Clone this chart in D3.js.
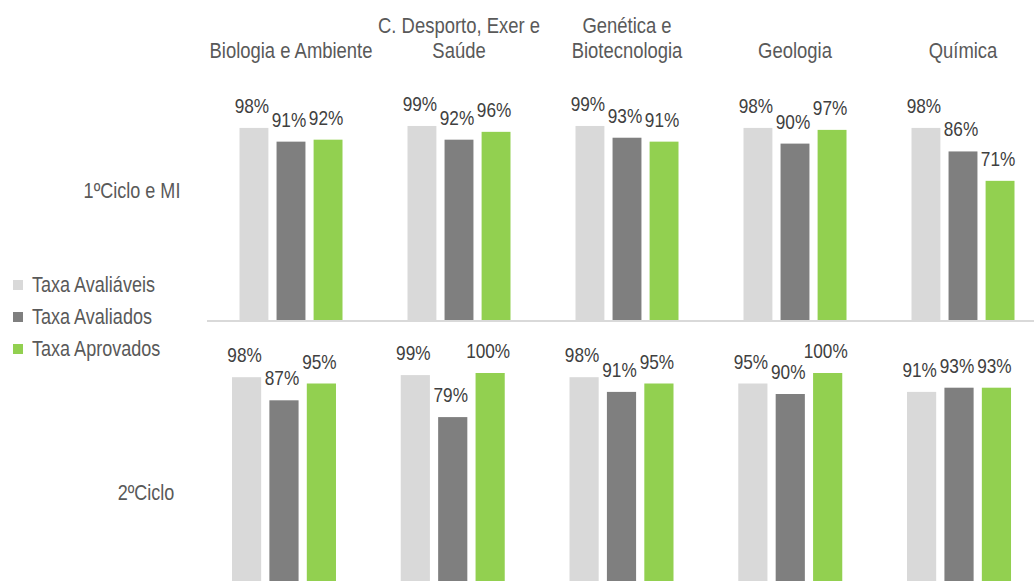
<!DOCTYPE html>
<html>
<head>
<meta charset="utf-8">
<script src="https://cdn.jsdelivr.net/npm/d3@7"></script>
<style>
  html, body { margin: 0; padding: 0; background: #fff; }
</style>
</head>
<body>
<div id="chart"></div>
<script>
// données du graphique
const categories = ["Biologia e Ambiente", "C. Desporto, Exer e Saúde", "Genética e Biotecnologia", "Geologia", "Química"];
const headerLines = [["Biologia e Ambiente"], ["C. Desporto, Exer e", "Saúde"], ["Genética e", "Biotecnologia"], ["Geologia"], ["Química"]];
const rowLabels = ["1ºCiclo e MI", "2ºCiclo"];
const seriesNames = ["Taxa Avaliáveis", "Taxa Avaliados", "Taxa Aprovados"];
const seriesColors = ["#d9d9d9", "#7f7f7f", "#92d050"];

const ciclo1Avaliaveis = [98, 99, 99, 98, 98];
const ciclo1Avaliados  = [91, 92, 93, 90, 86];
const ciclo1Aprovados  = [92, 96, 91, 97, 71];
const ciclo2Avaliaveis = [98, 99, 98, 95, 91];
const ciclo2Avaliados  = [87, 79, 91, 90, 93];
const ciclo2Aprovados  = [95, 100, 95, 100, 93];

const rowValues = [
    [ciclo1Avaliaveis, ciclo1Avaliados, ciclo1Aprovados],
    [ciclo2Avaliaveis, ciclo2Avaliados, ciclo2Aprovados]
];

const width = 1034, height = 581;

// la police étroite n'est pas toujours installée
function hasFont(name) {
    const ctx = document.createElement("canvas").getContext("2d");
    const s = "mmmmmmmmmmlli 98% Taxa";
    ctx.font = "40px monospace";
    const w0 = ctx.measureText(s).width;
    ctx.font = `40px "${name}", monospace`;
    return ctx.measureText(s).width !== w0;
}
const narrow = hasFont("Liberation Sans Narrow");
const fontFamily = narrow ? "'Liberation Sans Narrow', 'Liberation Sans', Arial, sans-serif" : "'Liberation Sans', Arial, sans-serif";
const sx = narrow ? 1 : 0.82;

const svg = d3.select("#chart").append("svg")
    .attr("width", width)
    .attr("height", height)
    .style("font-family", fontFamily);

function addText(parent, x, y, txt, size, color, anchor) {
    return parent.append("text")
        .attr("transform", `translate(${x},${y}) scale(${sx},1)`)
        .attr("text-anchor", anchor || "middle")
        .style("font-size", size + "px")
        .style("fill", color)
        .text(txt);
}

// chaque ligne du panneau a sa propre échelle (le panneau du bas est un peu plus grand)
const rows = [
    { x0: 207, x1: 1047, base: 320, top100: 124, barHalf: 51.5, labelX: 132, labelY: 198 },
    { x0: 199.6, x1: 1043.4, base: 583, top100: 373, barHalf: 52, labelX: 146, labelY: 500 }
];

rows.forEach((row, r) => {
    const xScale = d3.scaleBand()
        .domain(categories)
        .range([row.x0, row.x1]);

    const xInner = d3.scaleBand()
        .domain(seriesNames)
        .range([-row.barHalf, row.barHalf])
        .paddingInner(0.22);

    const yScale = d3.scaleLinear()
        .domain([0, 100])
        .range([row.base, row.top100]);

    const g = svg.append("g");

    categories.forEach((cat, i) => {
        const cx = xScale(cat) + xScale.bandwidth() / 2;
        seriesNames.forEach((s, k) => {
            const v = rowValues[r][k][i];
            g.append("rect")
                .attr("x", cx + xInner(s))
                .attr("y", yScale(v))
                .attr("width", xInner.bandwidth())
                .attr("height", yScale(0) - yScale(v))
                .attr("fill", seriesColors[k]);
        });
    });

    // étiquettes des valeurs
    categories.forEach((cat, i) => {
        const cx = xScale(cat) + xScale.bandwidth() / 2;
        seriesNames.forEach((s, k) => {
            const v = rowValues[r][k][i];
            addText(g, cx + xInner(s) + xInner.bandwidth() / 2 - 2, yScale(v) - 15, v + "%", 21, "#404040");
        });
    });

    // titres des colonnes au-dessus du premier panneau
    if (r === 0) {
        headerLines.forEach((lines, i) => {
            const cx = xScale(categories[i]) + xScale.bandwidth() / 2;
            lines.forEach((ln, j) => {
                const y = 58 - (lines.length - 1 - j) * 25;
                addText(svg, cx, y, ln, 22.5, "#595959");
            });
        });

        // ligne de base du premier panneau
        svg.append("line")
            .attr("x1", row.x0)
            .attr("x2", width)
            .attr("y1", yScale(0) + 1)
            .attr("y2", yScale(0) + 1)
            .style("stroke", "#d9d9d9")
            .style("stroke-width", 2);
    }

    addText(svg, row.labelX, row.labelY, rowLabels[r], 22, "#595959");
});

// légende
const legend = svg.append("g").attr("transform", "translate(13,285)");
seriesNames.forEach((s, k) => {
    legend.append("rect")
        .attr("x", 0)
        .attr("y", k * 32 - 5)
        .attr("width", 10)
        .attr("height", 10)
        .attr("fill", seriesColors[k]);
    addText(legend, 19, k * 32 + 7, s, 22, "#595959", "start");
});
</script>
</body>
</html>
